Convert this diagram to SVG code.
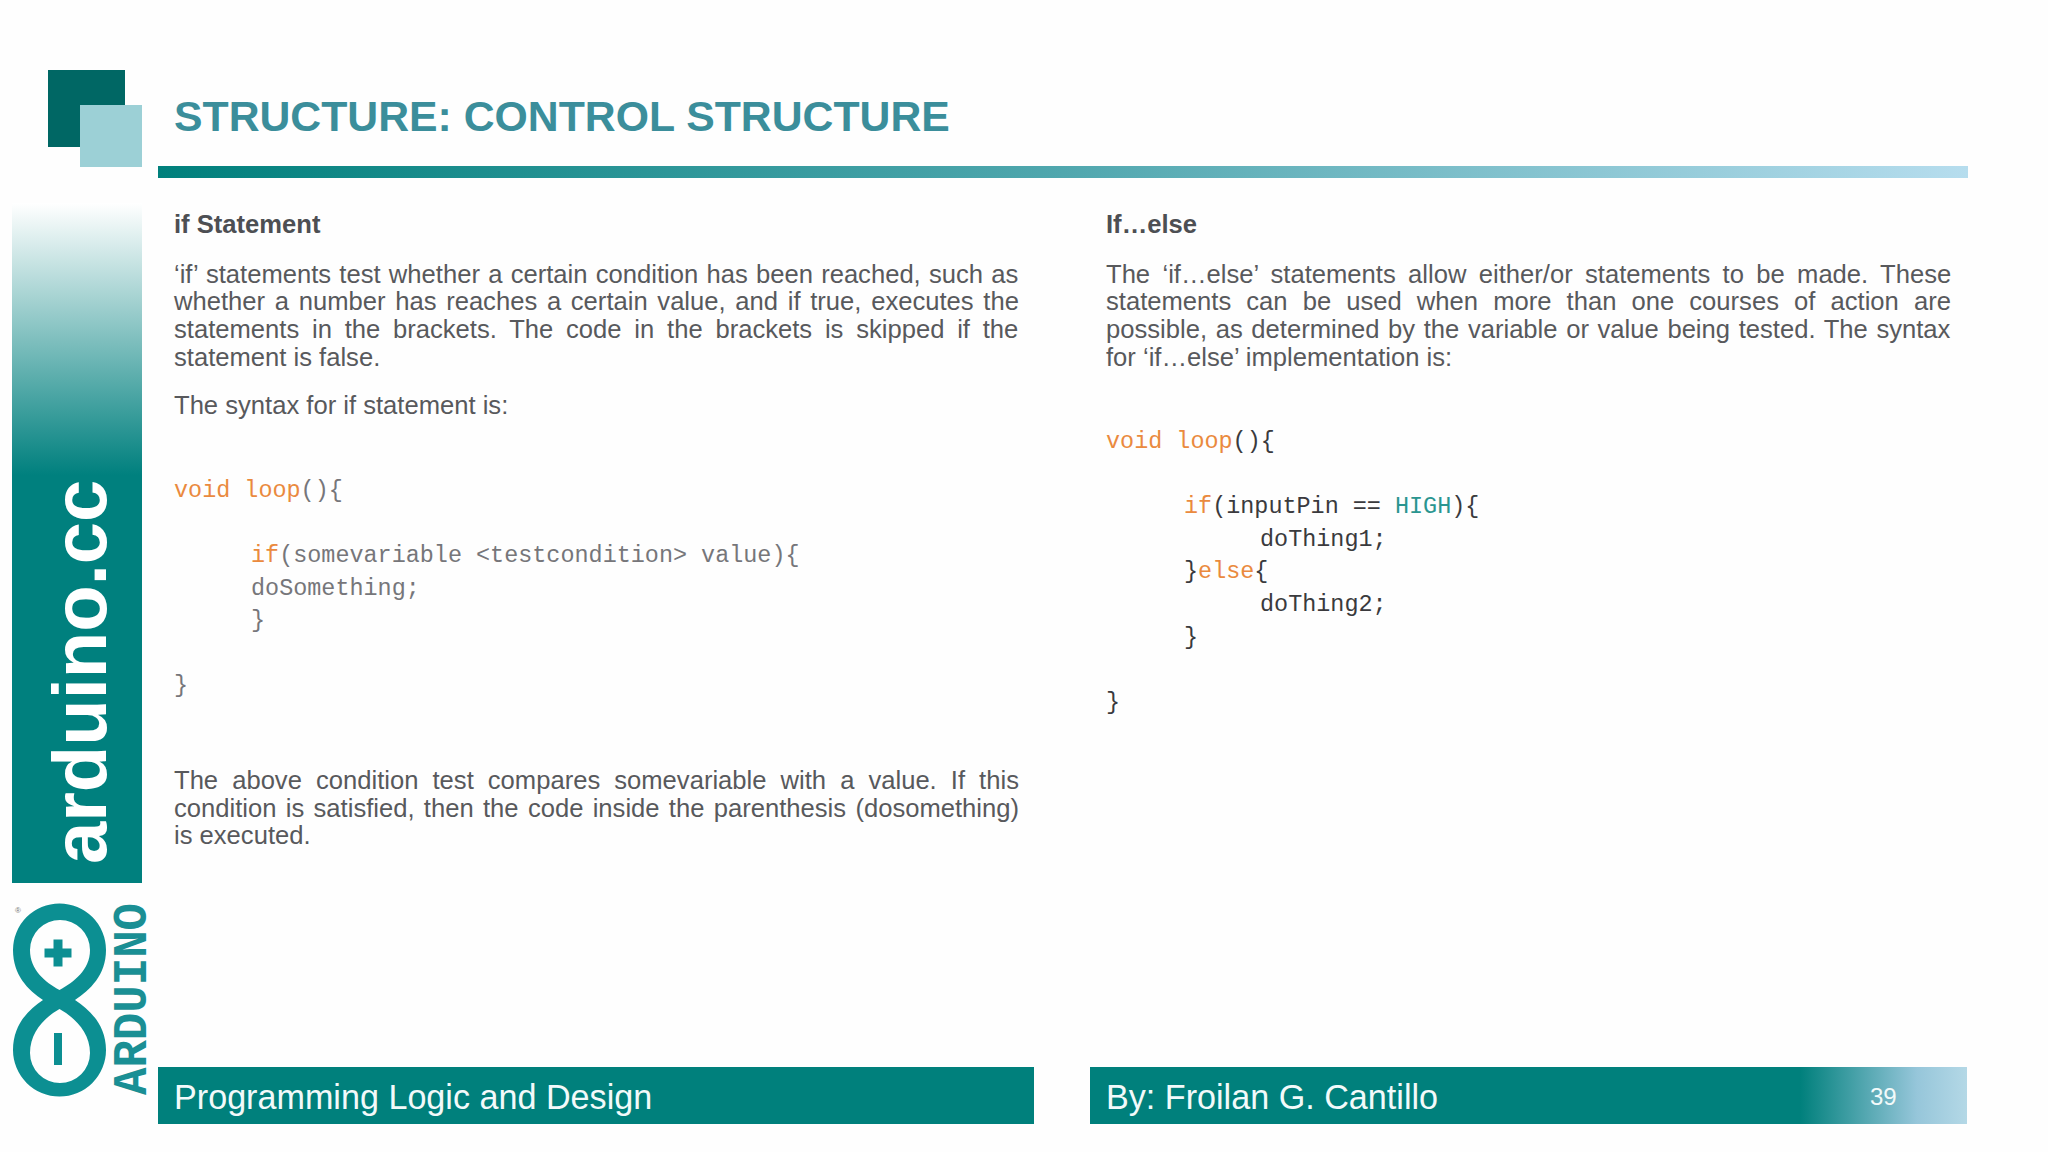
<svg xmlns="http://www.w3.org/2000/svg" width="2048" height="1152" viewBox="0 0 2048 1152">
<style>
text{font-family:"Liberation Sans",Arial,sans-serif}
.b{font-size:25.6px;fill:#58595c}
.h{font-size:25.6px;font-weight:700;fill:#4d4f53}
.m{font-family:"Liberation Mono","Courier New",monospace;font-size:23.45px;white-space:pre}
.g{fill:#76767a}.d{fill:#3a3a3d}.o{fill:#ea8a3e}.t{fill:#2a9590}
.f{font-size:34.15px;fill:#f2fafa}
</style>
<defs>
<linearGradient id="bar" x1="0" x2="1" y1="0" y2="0"><stop offset="0" stop-color="#00807c"/><stop offset="0.5" stop-color="#50a7ae"/><stop offset="1" stop-color="#b6ddee"/></linearGradient>
<linearGradient id="band" x1="0" x2="0" y1="0" y2="1"><stop offset="0" stop-color="#ffffff"/><stop offset="0.4" stop-color="#00807e"/><stop offset="1" stop-color="#00807e"/></linearGradient>
<linearGradient id="foot" gradientUnits="userSpaceOnUse" x1="1800" x2="1967" y1="0" y2="0"><stop offset="0" stop-color="#00807c"/><stop offset="0.7" stop-color="#96c6da"/><stop offset="1" stop-color="#b4d8e6"/></linearGradient>
</defs>
<rect width="2048" height="1152" fill="#fefefe"/>
<g id="header">
<rect x="48" y="70" width="77" height="77" fill="#006764"/>
<rect x="80" y="105" width="62" height="62" fill="#9cd0d6"/>
<text x="174" y="131" font-size="42.75" font-weight="700" fill="#3b8e9b">STRUCTURE: CONTROL STRUCTURE</text>
<rect x="158" y="166" width="1810" height="12" fill="url(#bar)"/>
</g>
<g id="sidebar">
<rect x="12" y="203" width="130" height="680" fill="url(#band)"/>
<text transform="translate(106 864) rotate(-90)" font-size="76" font-weight="700" fill="#fff">arduino.cc</text>
</g>
<g id="logo">
<path fill-rule="evenodd" fill="#0c8f92" d="M75 1000C90 990 106 975 106 950A46.500 46.500 0 0 0 13 950C13 975 28 990 43 1000C28 1010 13 1025 13 1050A46.500 46.500 0 0 0 106 1050C106 1025 90 1010 75 1000ZM59.500 990C45 982 30 970 30 950A30 30 0 0 1 90 950C90 970 74 982 59.500 990ZM59.500 1009C45 1017 30 1032 30 1053A30 30 0 0 0 90 1053C90 1032 74 1017 59.500 1009Z"/>
<path d="M44.500 948.500h9v-9h9v9h9v9h-9v9h-9v-9h-9z" fill="#0c8f92"/>
<rect x="54" y="1033" width="8" height="32" fill="#0c8f92"/>
<text x="15" y="913" font-size="8" fill="#777">®</text>
<text transform="translate(146 1095) rotate(-90)" style="font-family:'Liberation Mono',monospace" font-size="48" font-weight="700" fill="#1a8f94" textLength="192" lengthAdjust="spacingAndGlyphs">ARDUINO</text>
</g>
<g id="left-column">
<text class="h" x="174" y="232.700">if Statement</text>
<text class="b" x="174" y="282.500" word-spacing="1.14">‘if’ statements test whether a certain condition has been reached, such as</text>
<text class="b" x="174" y="310" word-spacing="2.59">whether a number has reaches a certain value, and if true, executes the</text>
<text class="b" x="174" y="337.500" word-spacing="5.67">statements in the brackets. The code in the brackets is skipped if the</text>
<text class="b" x="174" y="365.500">statement is false.</text>
<text class="b" x="174" y="414">The syntax for if statement is:</text>
<text class="m o" x="174" y="497">void loop<tspan class="g">(){</tspan></text>
<text class="m o" x="251" y="562">if<tspan class="g">(somevariable &lt;testcondition&gt; value){</tspan></text>
<text class="m g" x="251" y="594.500">doSomething;</text>
<text class="m g" x="251" y="627">}</text>
<text class="m g" x="174" y="692">}</text>
<text class="b" x="174" y="789" word-spacing="6.96">The above condition test compares somevariable with a value. If this</text>
<text class="b" x="174" y="816.500" word-spacing="2.2">condition is satisfied, then the code inside the parenthesis (dosomething)</text>
<text class="b" x="174" y="844">is executed.</text>
</g>
<g id="right-column">
<text class="h" x="1106" y="232.700">If…else</text>
<text class="b" x="1106" y="282.500" word-spacing="5.24">The ‘if…else’ statements allow either/or statements to be made. These</text>
<text class="b" x="1106" y="310" word-spacing="8">statements can be used when more than one courses of action are</text>
<text class="b" x="1106" y="337.500" word-spacing="1.53">possible, as determined by the variable or value being tested. The syntax</text>
<text class="b" x="1106" y="365.500">for ‘if…else’ implementation is:</text>
<text class="m o" x="1106" y="448">void loop<tspan class="d">(){</tspan></text>
<text class="m o" x="1184" y="513">if<tspan class="d">(inputPin == </tspan><tspan class="t">HIGH</tspan><tspan class="d">){</tspan></text>
<text class="m d" x="1260" y="546">doThing1;</text>
<text class="m d" x="1184" y="578">}<tspan class="o">else</tspan>{</text>
<text class="m d" x="1260" y="611">doThing2;</text>
<text class="m d" x="1184" y="643.500">}</text>
<text class="m d" x="1106" y="708.500">}</text>
</g>
<g id="footer-left">
<rect x="158" y="1067" width="876" height="57" fill="#00807c"/>
<text class="f" x="174" y="1108.500">Programming Logic and Design</text>
</g>
<g id="footer-right">
<rect x="1090" y="1067" width="877" height="57" fill="url(#foot)"/>
<text class="f" x="1106" y="1108.500">By: Froilan G. Cantillo</text>
<text x="1870" y="1105" font-size="24" fill="#f2fafa">39</text>
</g>
</svg>
